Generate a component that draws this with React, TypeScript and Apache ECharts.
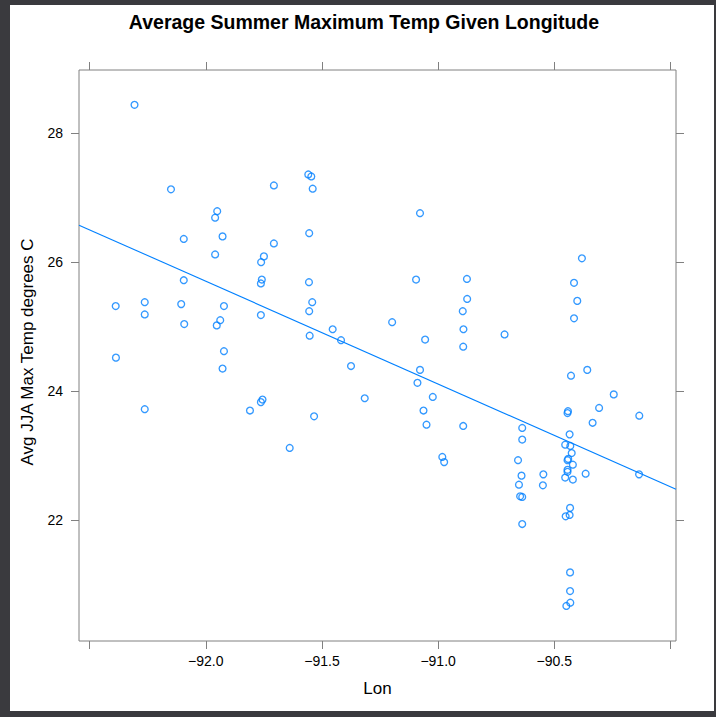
import { useEffect, useRef } from "react";
import * as echarts from "echarts";

const lon = [
  -92.307, -92.150, -91.707, -91.559, -91.546, -91.540, -91.951, -91.960, -92.095, -91.928,
  -91.707, -91.555, -91.960, -91.750, -91.762, -92.095, -91.759, -91.763, -91.556, -92.388,
  -92.263, -92.106, -91.922, -91.542, -92.263, -91.555, -92.093, -91.938, -91.953, -91.763,
  -91.553, -92.387, -91.922, -91.928, -91.756, -91.763, -92.263, -91.810, -91.534, -91.639,
  -91.078, -91.095, -90.876, -90.875, -90.894, -91.198, -91.454, -90.891, -91.418, -91.056,
  -90.892, -91.375, -91.078, -91.089, -91.316, -91.023, -91.063, -91.050, -90.892, -90.982,
  -90.974, -90.381, -90.415, -90.401, -90.415, -90.714, -90.358, -90.428, -90.244, -90.441,
  -90.443, -90.307, -90.335, -90.134, -90.638, -90.638, -90.434, -90.453, -90.431, -90.425,
  -90.656, -90.440, -90.443, -90.420, -90.443, -90.443, -90.547, -90.641, -90.365, -90.135,
  -90.453, -90.420, -90.652, -90.549, -90.647, -90.638, -90.432, -90.451, -90.434, -90.638,
  -90.432, -90.432, -90.448, -90.431,
];

const temp = [
  28.44, 27.13, 27.19, 27.36, 27.33, 27.14, 26.79, 26.69, 26.36, 26.40,
  26.29, 26.45, 26.12, 26.09, 26.00, 25.72, 25.73, 25.67, 25.69, 25.32,
  25.38, 25.35, 25.32, 25.38, 25.19, 25.24, 25.04, 25.10, 25.02, 25.18,
  24.86, 24.52, 24.62, 24.35, 23.87, 23.83, 23.72, 23.70, 23.61, 23.12,
  26.76, 25.73, 25.74, 25.43, 25.24, 25.07, 24.96, 24.96, 24.79, 24.80,
  24.69, 24.39, 24.33, 24.13, 23.89, 23.91, 23.70, 23.48, 23.46, 22.98,
  22.90, 26.06, 25.68, 25.40, 25.13, 24.88, 24.33, 24.24, 23.95, 23.69,
  23.66, 23.74, 23.51, 23.62, 23.43, 23.25, 23.33, 23.17, 23.15, 23.04,
  22.93, 22.95, 22.93, 22.86, 22.78, 22.75, 22.71, 22.69, 22.72, 22.71,
  22.66, 22.63, 22.55, 22.54, 22.37, 22.36, 22.19, 22.06, 22.08, 21.94,
  21.19, 20.90, 20.67, 20.72,
];

// regression line endpoints (at the panel's x limits)
const fitLon = [-92.546, -89.976];
const fitTemp = [26.574, 22.48];

const xRange = [-92.546, -89.976];
const yRange = [20.126, 28.98];
const xTicks = [-92.5, -92.0, -91.5, -91.0, -90.5, -90.0];
const xTickLabels = [-92.0, -91.5, -91.0, -90.5];
const yTicks = [22, 24, 26, 28];

const TITLE = "Average Summer Maximum Temp Given Longitude";
const X_NAME = "Lon";
const Y_NAME = "Avg JJA Max Temp degrees C";

const FONT = "'Liberation Sans', Arial, Helvetica, sans-serif";
const BLUE = "#0080ff";
const FRAME = "#808080";

export default function App() {
  const ref = useRef<HTMLDivElement>(null);

  useEffect(() => {
    if (!ref.current) return;
    const chart = echarts.init(ref.current, null, { renderer: "svg" });
    const fmt = (v: number) => (v < 0 ? "\u2212" : "") + Math.abs(v).toFixed(1);
    const tickStyle = { show: true, length: 8, lineStyle: { color: FRAME, width: 1 } };
    const common = { type: "value" as const, splitLine: { show: false }, axisLine: { show: false } };

    chart.setOption({
      animation: false,
      backgroundColor: "transparent",
      textStyle: { fontFamily: FONT },
      grid: {
        left: 79, top: 70, width: 597, height: 571,
        show: true, borderColor: FRAME, borderWidth: 1, backgroundColor: "transparent",
      },
      xAxis: [
        {
          ...common, position: "bottom", min: xRange[0], max: xRange[1],
          axisTick: { ...tickStyle, customValues: xTicks },
          axisLabel: { customValues: xTickLabels, formatter: fmt, margin: 13, fontSize: 14, color: "#000", fontFamily: FONT },
        },
        {
          ...common, position: "top", min: xRange[0], max: xRange[1],
          axisTick: { ...tickStyle, customValues: xTicks },
          axisLabel: { show: false },
        },
      ],
      yAxis: [
        {
          ...common, position: "left", min: yRange[0], max: yRange[1],
          axisTick: { ...tickStyle, customValues: yTicks },
          axisLabel: { customValues: yTicks, formatter: (v: number) => String(v), margin: 16, fontSize: 14, color: "#000", fontFamily: FONT },
        },
        {
          ...common, position: "right", min: yRange[0], max: yRange[1],
          axisTick: { ...tickStyle, customValues: yTicks },
          axisLabel: { show: false },
        },
      ],
      graphic: [
        {
          type: "text", x: 364, y: 22,
          style: { text: TITLE, font: `bold 19.5px ${FONT}`, fill: "#000", textAlign: "center", textVerticalAlign: "middle" },
        },
        {
          type: "text", x: 377.5, y: 688,
          style: { text: X_NAME, font: `17px ${FONT}`, fill: "#000", textAlign: "center", textVerticalAlign: "middle" },
        },
        {
          type: "text", x: 27, y: 352, rotation: Math.PI / 2,
          style: { text: Y_NAME, font: `17px ${FONT}`, fill: "#000", textAlign: "center", textVerticalAlign: "middle" },
        },
      ],
      series: [
        {
          type: "line",
          xAxisIndex: 0, yAxisIndex: 0,
          data: fitLon.map((x, i) => [x, fitTemp[i]]),
          showSymbol: false, symbol: "none",
          lineStyle: { color: BLUE, width: 1.1 },
          silent: true, z: 1,
        },
        {
          type: "scatter",
          xAxisIndex: 0, yAxisIndex: 0,
          data: lon.map((x, i) => [x, temp[i]]),
          symbol: "circle", symbolSize: 6.8,
          itemStyle: { color: "rgba(0,0,0,0)", borderColor: BLUE, borderWidth: 1.35 },
          silent: true, z: 2,
        },
      ],
    });
    return () => chart.dispose();
  }, []);

  return (
    <div style={{ position: "fixed", left: 0, top: 0, width: 716, height: 717, background: "#3a3a3e" }}>
      <div style={{ position: "absolute", left: 10, top: 5, width: 704, height: 706, background: "#fff" }} />
      <div ref={ref} style={{ position: "absolute", left: 0, top: 0, width: 716, height: 717 }} />
    </div>
  );
}
